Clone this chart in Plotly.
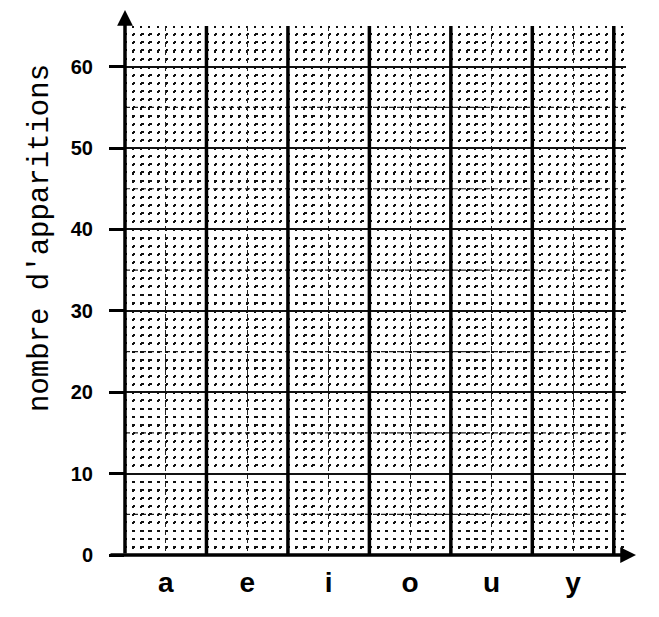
import plotly.graph_objects as go

# ---- data (blank worksheet: categories and axis ticks only) ----
categories = ["a", "e", "i", "o", "u", "y"]
y_ticks = [0, 10, 20, 30, 40, 50, 60]
y_tick_labels = ["0", "10", "20", "30", "40", "50", "60"]
y_half_lines = [5, 15, 25, 35, 45, 55]
y_title = "nombre d'apparitions"
y_max = 65

n = len(categories)
x_lo, x_hi = -0.5, n - 0.35

W, H = 651, 609          # page body keeps an 8px margin
L, B = 117, 62
PW = int(round((x_hi - x_lo) * 81.5))
PH = int(round(y_max * 8.133))

fig = go.Figure()
# invisible trace to anchor the category axis
fig.add_trace(go.Scatter(x=list(range(n)), y=[None] * n, mode="markers",
                         showlegend=False, hoverinfo="skip"))

shapes = []
# dashed half-decade lines
for v in y_half_lines:
    shapes.append(dict(type="line", xref="x", yref="y", x0=x_lo, x1=x_hi, y0=v, y1=v,
                       line=dict(color="#222", width=1.2, dash="5px,3px"), layer="below"))
# bold separators between letters
for i in range(n):
    shapes.append(dict(type="line", xref="x", yref="y", x0=i + 0.5, x1=i + 0.5, y0=0, y1=y_max,
                       line=dict(color="black", width=3.5)))

annotations = [
    # y axis with arrow
    dict(x=0, y=1 + 16 / PH, xref="paper", yref="paper", ax=0, ay=PH + 16,
         axref="pixel", ayref="pixel",
         text="", showarrow=True, arrowhead=2, arrowsize=0.9, arrowwidth=3.5, arrowcolor="black"),
    # x axis with arrow
    dict(x=1 + 10 / PW, y=0, xref="paper", yref="paper", ax=-(PW + 10 + 16), ay=0,
         axref="pixel", ayref="pixel",
         text="", showarrow=True, arrowhead=2, arrowsize=0.9, arrowwidth=3.5, arrowcolor="black"),
    # y title
    dict(x=-(L - 32) / PW, y=(547 - 230) / PH, xref="paper", yref="paper", text=y_title,
         showarrow=False, textangle=-90, xanchor="center", yanchor="middle",
         font=dict(family="Liberation Mono", size=29, color="black")),
]

fig.update_layout(
    width=W, height=H,
    margin=dict(l=L, r=W - L - PW, t=H - B - PH, b=B),
    paper_bgcolor="white", plot_bgcolor="white",
    showlegend=False,
    shapes=shapes,
    annotations=annotations,
    xaxis=dict(
        range=[x_lo, x_hi],
        tickmode="array", tickvals=list(range(n)), ticktext=categories,
        tickfont=dict(family="Liberation Sans", size=28, color="black", weight="bold"),
        ticks="", ticklabelstandoff=8,
        showgrid=True, gridcolor="#222", gridwidth=1.2, griddash="5px,3px",
        minor=dict(dtick=0.1, showgrid=True, gridcolor="#111", gridwidth=2.2,
                   griddash="2.2px,5.93px"),
        zeroline=False, showline=False, fixedrange=True,
    ),
    yaxis=dict(
        range=[0, y_max],
        tickmode="array", tickvals=y_ticks, ticktext=y_tick_labels,
        tickfont=dict(family="Liberation Sans", size=20, color="black", weight="bold"),
        ticks="outside", ticklen=15, tickwidth=3, tickcolor="black", ticklabelstandoff=12,
        showgrid=True, gridcolor="#111", gridwidth=1.5,
        minor=dict(dtick=1, showgrid=True, gridcolor="#111", gridwidth=2.2,
                   griddash="2.2px,5.95px"),
        zeroline=False, showline=False, fixedrange=True,
    ),
)

fig.write_html("out.html")
